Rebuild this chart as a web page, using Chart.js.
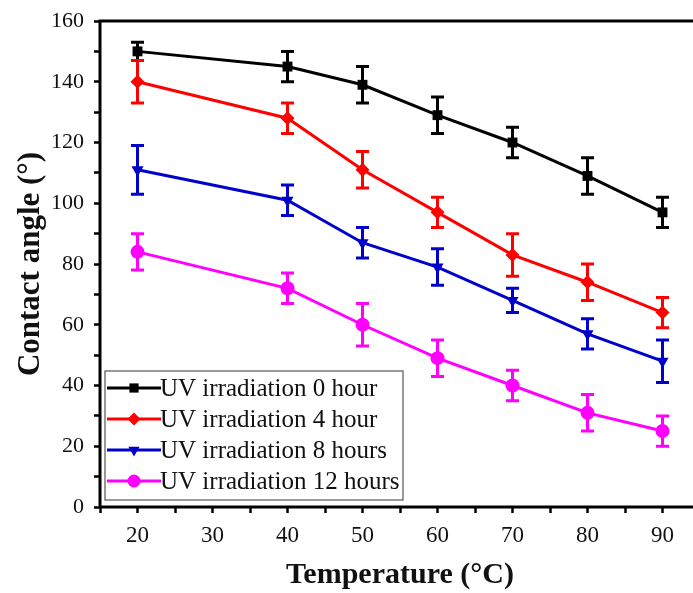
<!DOCTYPE html>
<html>
<head>
<meta charset="utf-8">
<script src="https://cdn.jsdelivr.net/npm/chart.js@4"></script>
<style>
    html, body { margin: 0; padding: 0; background: #fff; overflow: hidden; }
    #wrap { width: 712px; height: 593px; }
</style>
</head>
<body>
<div id="wrap"><canvas id="chart"></canvas></div>
<script>
// Data
const temps = [20, 40, 50, 60, 70, 80, 90];
const labels = ['UV irradiation 0 hour', 'UV irradiation 4 hour', 'UV irradiation 8 hours', 'UV irradiation 12 hours'];
const uv0 = [150, 145, 139, 129, 120, 109, 97];
const uv0Err = [3, 5, 6, 6, 5, 6, 5];
const uv4 = [140, 128, 111, 97, 83, 74, 64];
const uv4Err = [7, 5, 6, 5, 7, 6, 5];
const uv8 = [111, 101, 87, 79, 68, 57, 48];
const uv8Err = [8, 5, 5, 6, 4, 5, 7];
const uv12 = [84, 72, 60, 49, 40, 31, 25];
const uv12Err = [6, 5, 7, 6, 5, 6, 5];

const colors = ['#000000', '#ff0000', '#0000cc', '#ff00ff'];
const markers = ['rect', 'rectRot', 'triangle', 'circle'];
const rotations = [0, 0, 180, 0];
const values = [uv0, uv4, uv8, uv12];
const errors = [uv0Err, uv4Err, uv8Err, uv12Err];

const serif = "'Liberation Serif', 'Times New Roman', serif";

const datasets = values.map((vals, k) => ({
    label: labels[k],
    data: temps.map((t, i) => ({ x: t, y: vals[i] })),
    errors: errors[k],
    borderColor: colors[k],
    backgroundColor: colors[k],
    borderWidth: 3,
    pointStyle: markers[k],
    pointRotation: rotations[k],
    pointRadius: 7,
    pointBorderWidth: 0,
    showLine: true,
    tension: 0
}));

// Error bars with caps
const errorBars = {
    id: 'errorBars',
    afterDatasetsDraw(chart) {
        const ctx = chart.ctx;
        const xs = chart.scales.x, ys = chart.scales.y;
        ctx.save();
        chart.data.datasets.forEach(ds => {
            ctx.strokeStyle = ds.borderColor;
            ctx.lineWidth = 3;
            ds.data.forEach((p, i) => {
                const x = xs.getPixelForValue(p.x);
                const top = ys.getPixelForValue(p.y + ds.errors[i]);
                const bot = ys.getPixelForValue(p.y - ds.errors[i]);
                ctx.beginPath();
                ctx.moveTo(x, top); ctx.lineTo(x, bot);
                ctx.moveTo(x - 6.5, top); ctx.lineTo(x + 6.5, top);
                ctx.moveTo(x - 6.5, bot); ctx.lineTo(x + 6.5, bot);
                ctx.stroke();
            });
        });
        ctx.restore();
    }
};

// Frame around plot area
const frame = {
    id: 'frame',
    afterDraw(chart) {
        const { left, top, right, bottom } = chart.chartArea;
        const ctx = chart.ctx;
        ctx.save();
        ctx.strokeStyle = '#000';
        ctx.lineWidth = 3;
        ctx.strokeRect(left, top, right - left, bottom - top);
        ctx.restore();
    }
};

// Legend box inside the plot, lower left
const insideLegend = {
    id: 'insideLegend',
    afterDraw(chart) {
        const ctx = chart.ctx;
        const area = chart.chartArea;
        const bx = area.left + 5, bw = 298, bh = 129;
        const by = area.bottom - 7 - bh;
        ctx.save();
        ctx.fillStyle = '#fff';
        ctx.fillRect(bx, by, bw, bh);
        ctx.strokeStyle = '#555';
        ctx.lineWidth = 1.2;
        ctx.strokeRect(bx, by, bw, bh);
        ctx.font = '25px ' + serif;
        ctx.textBaseline = 'middle';
        chart.data.datasets.forEach((ds, k) => {
            const cy = by + 17 + k * 31;
            ctx.strokeStyle = ds.borderColor;
            ctx.lineWidth = 3;
            ctx.beginPath();
            ctx.moveTo(bx + 2, cy); ctx.lineTo(bx + 56, cy);
            ctx.stroke();
            ctx.fillStyle = ds.borderColor;
            Chart.helpers.drawPoint(ctx, {
                pointStyle: ds.pointStyle, rotation: ds.pointRotation,
                radius: 6.5, borderWidth: 0
            }, bx + 29, cy);
            ctx.fillStyle = '#111';
            ctx.fillText(ds.label, bx + 55, cy + 1);
        });
        ctx.restore();
    }
};

new Chart(document.getElementById('chart'), {
    type: 'scatter',
    data: { datasets },
    options: {
        responsive: true,
        maintainAspectRatio: false,
        animation: false,
        layout: { padding: { top: 19, right: 12, left: 0, bottom: 0 } },
        plugins: { legend: { display: false }, tooltip: { enabled: false } },
        scales: {
            x: {
                type: 'linear',
                min: 15, max: 95,
                afterFit: s => { s.height = 86; },
                border: { display: false },
                grid: { drawOnChartArea: false, tickLength: 6, tickWidth: 2.5, tickColor: '#000' },
                ticks: {
                    stepSize: 5,
                    color: '#111',
                    font: { family: serif, size: 23 },
                    padding: 9,
                    maxRotation: 0,
                    callback: v => (v % 10 === 0 && v >= 20 && v <= 90) ? v : ''
                },
                title: {
                    display: true,
                    text: 'Temperature (°C)',
                    color: '#111',
                    font: { family: serif, size: 30, weight: 'bold' },
                    padding: { top: 0, bottom: 0 }
                }
            },
            y: {
                min: 0, max: 160,
                afterFit: s => { s.width = 100; },
                border: { display: false },
                grid: { drawOnChartArea: false, tickLength: 6, tickWidth: 2.5, tickColor: '#000' },
                ticks: {
                    stepSize: 10,
                    color: '#111',
                    font: { family: serif, size: 22, lineHeight: 1 },
                    padding: 10,
                    callback: v => (v % 20 === 0) ? v : ''
                },
                title: {
                    display: true,
                    text: 'Contact angle (°)',
                    color: '#111',
                    font: { family: serif, size: 31, weight: 'bold' },
                    padding: { top: 12, bottom: 0 }
                }
            }
        }
    },
    plugins: [errorBars, frame, insideLegend]
});
</script>
</body>
</html>
